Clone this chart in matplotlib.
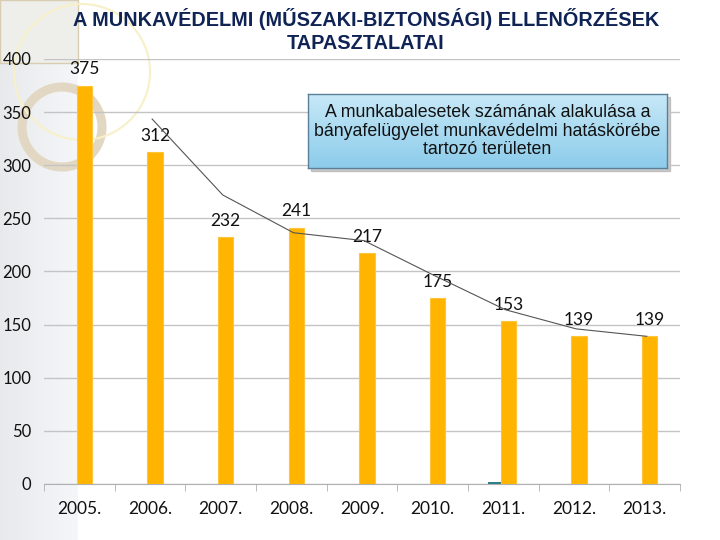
import numpy as np
import matplotlib
matplotlib.use('Agg')
import matplotlib.pyplot as plt
from matplotlib.patches import Rectangle, Circle

# data
years = ['2005.', '2006.', '2007.', '2008.', '2009.', '2010.', '2011.', '2012.', '2013.']
accidents = [375, 312, 232, 241, 217, 175, 153, 139, 139]
other = [0, 0, 0, 0, 0, 0, 1.5, 0, 0]
trend = [343.5, 272, 236.5, 229, 196, 164, 146, 139]

title = 'A MUNKAVÉDELMI (MŰSZAKI-BIZTONSÁGI) ELLENŐRZÉSEK\nTAPASZTALATAI'
note = 'A munkabalesetek számának alakulása a\nbányafelügyelet munkavédelmi hatáskörébe\ntartozó területen'

fig = plt.figure(figsize=(7.2, 5.4), dpi=100)
fig.patch.set_facecolor('white')

# left template panel
bg = fig.add_axes([0, 0, 1, 1])
bg.axis('off')
grad = np.linspace(0.925, 0.975, 100).reshape(1, -1)
bg.imshow(np.dstack([grad * 0.985, grad * 0.99, grad]), extent=[0, 78, 540, 0], aspect='auto')
bg.add_patch(Rectangle((0, 0), 78, 63, fc='#eeeeea', lw=1, ec='#d8cdb0'))
bg.add_patch(Circle((62, 127), 40, fill=False, lw=6.5, color='#e2d7c2'))
bg.add_patch(Circle((82, 72), 68, fill=False, lw=1.5, color='#f7f0c8'))
bg.set_xlim(0, 720)
bg.set_ylim(540, 0)

ax = fig.add_axes([44 / 720, 1 - 484 / 540, 636 / 720, 425 / 540])
ax.patch.set_alpha(0)
x = np.arange(len(years))
w = 0.22
ax.bar(x - w / 2, other, w, color='#2f7f86', zorder=3)
bars = ax.bar(x + w / 2 - 0.04, accidents, w, color='#ffb400', edgecolor='#ffc53a', lw=0.8, zorder=3)
for xi, v in zip(x, accidents):
    ax.text(xi + w / 2 - 0.04, v + 8, str(v), ha='center', va='bottom',
            fontsize=12.5, family='Lato', color='#111111')

ax.plot(x[1:] + 0.03, trend, color='#555555', lw=0.8, zorder=4)

ax.set_xlim(-0.5, len(years) - 0.5)
ax.set_ylim(0, 400)
ax.set_yticks(range(0, 401, 50))
ax.yaxis.grid(True, color='#c4c4c4', lw=1)
ax.set_axisbelow(True)
ax.set_xticks(x)
ax.set_xticklabels(years)
ax.set_xticks(np.arange(-0.5, len(years)), minor=True)
ax.tick_params(axis='x', which='major', length=0, pad=12, labelsize=12.5)
ax.tick_params(axis='x', which='minor', length=5, color='#b0b0b0')
ax.tick_params(axis='y', length=0, pad=9, labelsize=12)
for lab in ax.get_xticklabels() + ax.get_yticklabels():
    lab.set_family('Lato')
    lab.set_color('#111111')
for s in ['top', 'right', 'left']:
    ax.spines[s].set_visible(False)
ax.spines['bottom'].set_color('#b0b0b0')

fig.text(0.508, 0.985, title, ha='center', va='top', fontsize=14.3, fontweight='bold',
         family='Liberation Sans', color='#0f2455', linespacing=1.25)

# note box with gradient fill and shadow
bg.add_patch(Rectangle((311, 97), 359, 74, color='#999999', alpha=0.5, zorder=0))
bx = fig.add_axes([308 / 720, 1 - 168 / 540, 359 / 720, 74 / 540])
g = np.linspace(0.0, 1.0, 50).reshape(-1, 1)
top = np.array([0.78, 0.91, 0.97])
bot = np.array([0.55, 0.80, 0.92])
img = top + g[..., None] * (bot - top)
img = np.repeat(img, 10, axis=1)
bx.imshow(img, extent=[0, 1, 0, 1], aspect='auto')
bx.set_xticks([])
bx.set_yticks([])
for s in bx.spines.values():
    s.set_color('#5a7f99')
    s.set_linewidth(1)
bx.text(0.5, 0.5, note, ha='center', va='center', fontsize=12.8,
        family='Liberation Sans', color='#111111', linespacing=1.12)

fig.savefig('out.png', dpi=100)
